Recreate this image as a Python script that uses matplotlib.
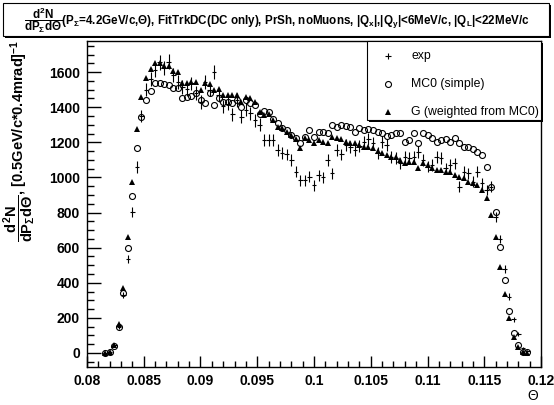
import numpy as np
import matplotlib
matplotlib.use('Agg')
import matplotlib.pyplot as plt
from matplotlib.patches import Rectangle
from matplotlib.lines import Line2D
from matplotlib.ticker import MultipleLocator, FixedLocator, FixedFormatter

plt.rcParams['font.family'] = ['Liberation Sans', 'DejaVu Sans']
plt.rcParams['mathtext.fontset'] = 'custom'
plt.rcParams['mathtext.rm'] = 'Liberation Sans:bold'
plt.rcParams['mathtext.it'] = 'Liberation Sans:bold'
plt.rcParams['mathtext.bf'] = 'Liberation Sans:bold'

# bin centres, 0.4 mrad bins
theta = 0.0816 + 0.0004 * np.arange(94)

exp_counts = [2, 5, 45, 150, 330, 535, 805, 1060, 1350, 1500,
              1560, 1610, 1655, 1625, 1660, 1583, 1545, 1515, 1505, 1535,
              1480, 1430, 1545, 1500, 1600, 1470, 1405, 1420, 1360, 1440,
              1345, 1385, 1365, 1325, 1300, 1213, 1213, 1213, 1156, 1137,
              1131, 1099, 1032, 985, 985, 1004, 956, 1013, 1000, 1099,
              1023, 1156, 1131, 1184, 1175, 1156, 1178, 1203, 1217, 1194,
              1137, 1200, 1184, 1118, 1110, 1080, 1118, 1109, 1118, 1147,
              1099, 1061, 1071, 1118, 1109, 1052, 1070, 1080, 947, 1033,
              1023, 976, 1033, 966, 928, 947, 776, 649, 477, 321,
              192, 108, 30, 13]

mc0_counts = [0, 5, 40, 150, 340, 600, 895, 1170, 1345, 1440,
              1495, 1535, 1535, 1530, 1525, 1508, 1508, 1450, 1460, 1465,
              1480, 1440, 1425, 1480, 1410, 1450, 1430, 1430, 1425, 1440,
              1400, 1440, 1425, 1410, 1360, 1378, 1374, 1330, 1308, 1280,
              1270, 1241, 1222, 1194, 1232, 1270, 1232, 1260, 1260, 1251,
              1298, 1289, 1298, 1293, 1286, 1260, 1280, 1270, 1273, 1270,
              1260, 1255, 1236, 1242, 1255, 1255, 1204, 1213, 1255, 1198,
              1251, 1240, 1222, 1204, 1213, 1217, 1204, 1222, 1194, 1172,
              1172, 1160, 1147, 1128, 1060, 947, 805, 605, 416, 239,
              112, 45, 8, 5]

g_counts = [2, 8, 48, 165, 370, 660, 975, 1275, 1460, 1565,
            1617, 1650, 1650, 1636, 1636, 1608, 1600, 1535, 1540, 1545,
            1545, 1500, 1535, 1530, 1497, 1505, 1470, 1470, 1470, 1470,
            1430, 1460, 1450, 1430, 1370, 1355, 1360, 1327, 1289, 1279,
            1260, 1241, 1217, 1165, 1225, 1215, 1194, 1213, 1203, 1198,
            1232, 1222, 1217, 1203, 1194, 1198, 1184, 1175, 1171, 1165,
            1150, 1140, 1125, 1118, 1115, 1099, 1080, 1090, 1090, 1052,
            1080, 1071, 1052, 1042, 1042, 1033, 1033, 1014, 1004, 995,
            976, 966, 957, 930, 881, 786, 662, 491, 334, 198,
            89, 36, 7, 2]

xtick_vals = [0.08, 0.085, 0.09, 0.095, 0.1, 0.105, 0.11, 0.115, 0.12]
xtick_labels = ['0.08', '0.085', '0.09', '0.095', '0.1', '0.105', '0.11', '0.115', '0.12']
legend_labels = ['exp', 'MC0 (simple)', 'G (weighted from MC0)']

W, H = 554, 405
fig = plt.figure(figsize=(W / 100, H / 100), dpi=100)

def fx(px):
    return px / W

def fy(py):
    return 1 - py / H

ax = fig.add_axes([fx(87), fy(367), (541 - 87) / W, (367 - 41) / H])

exp_counts = np.array(exp_counts, dtype=float)
ax.errorbar(theta, exp_counts, yerr=np.sqrt(exp_counts), xerr=0.0002,
            fmt='none', ecolor='black', elinewidth=0.8, capsize=0)
ax.plot(theta, mc0_counts, 'o', ms=4.3, mfc='none', mec='black', mew=0.8)
ax.plot(theta, g_counts, '^', ms=4.3, color='black', mew=0)

ax.set_xlim(0.08, 0.12)
ax.set_ylim(-80, 1777)

ax.xaxis.set_major_locator(FixedLocator(xtick_vals))
ax.xaxis.set_major_formatter(FixedFormatter(xtick_labels))
ax.xaxis.set_minor_locator(MultipleLocator(0.001))
ax.yaxis.set_major_locator(MultipleLocator(200))
ax.yaxis.set_minor_locator(MultipleLocator(50))
ax.set_yticks(np.arange(0, 1601, 200))

ax.tick_params(which='both', direction='in', top=False, right=False, width=1)
ax.tick_params(axis='x', which='major', length=8, pad=5, labelsize=10)
ax.tick_params(axis='x', which='minor', length=4)
ax.tick_params(axis='y', which='major', length=10, pad=5, labelsize=10)
ax.tick_params(axis='y', which='minor', length=5)
for lab in ax.get_xticklabels() + ax.get_yticklabels():
    lab.set_fontweight('bold')
for sp in ax.spines.values():
    sp.set_linewidth(1)

# y label (top-aligned like ROOT)
fig.text(fx(20), fy(40),
         r'$\dfrac{d^2N}{dP_{\Sigma}d\Theta}$, [0.5GeV/c*0.4mrad]$^{-1}$',
         rotation=90, ha='center', va='top', fontsize=10.5, fontweight='bold')
# x label
fig.text(fx(533), fy(396), 'Θ', ha='center', va='center', fontsize=10)

# title box with shadow
fig.add_artist(Rectangle((fx(5), fy(38)), fx(546), (38 - 5) / H,
                         transform=fig.transFigure, facecolor='black', edgecolor='none'))
fig.add_artist(Rectangle((fx(3), fy(36)), fx(546), (36 - 3) / H,
                         transform=fig.transFigure, facecolor='white', edgecolor='black', lw=0.8))
fig.text(fx(277), fy(20),
         r'$\dfrac{d^2N}{dP_{\Sigma}d\Theta}$(P$_{\Sigma}$=4.2GeV/c,$\Theta$), FitTrkDC(DC only), '
         r'PrSh, noMuons, |Q$_{x}$|,|Q$_{y}$|<6MeV/c, |Q$_{L}$|<22MeV/c',
         ha='center', va='center', fontsize=8.4, fontweight='bold')

# legend
fig.add_artist(Rectangle((fx(369), fy(122)), (543 - 369) / W, (122 - 43) / H,
                         transform=fig.transFigure, facecolor='black', edgecolor='none'))
fig.add_artist(Rectangle((fx(367), fy(120)), (541 - 367) / W, (120 - 41) / H,
                         transform=fig.transFigure, facecolor='white', edgecolor='black', lw=0.8))
leg_markers = [dict(marker='+', ms=5, color='black', mew=0.8),
               dict(marker='o', ms=4.3, mfc='none', mec='black', mew=0.8),
               dict(marker='^', ms=4.3, color='black', mew=0)]
for i, (lab, mk) in enumerate(zip(legend_labels, leg_markers)):
    yy = 56 + 28 * i
    fig.add_artist(Line2D([fx(388)], [fy(yy)], linestyle='none',
                          transform=fig.transFigure, **mk))
    fig.text(fx(411), fy(yy), lab, ha='left', va='center', fontsize=8.8)

fig.savefig('out.png', dpi=100)
